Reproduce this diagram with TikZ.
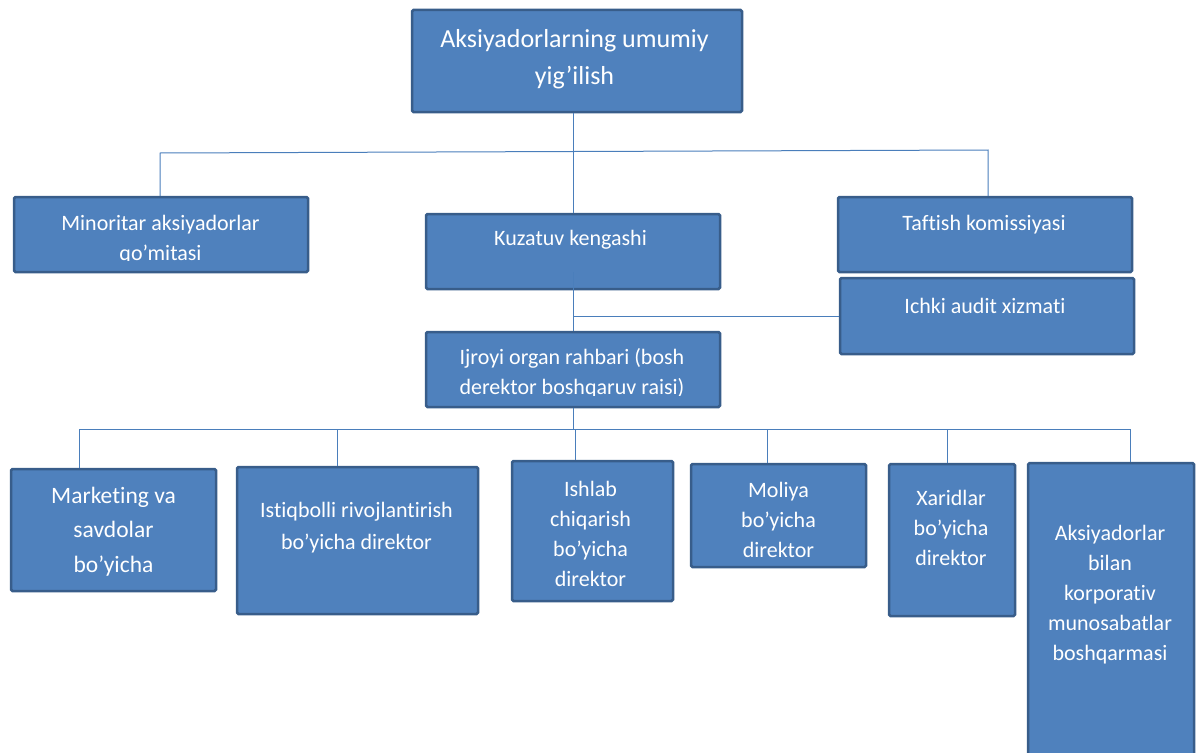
\documentclass[tikz,border=0pt]{standalone}
\usepackage{fontspec}
\setmainfont{Carlito}[Ligatures=NoCommon]
\usetikzlibrary{calc}
\definecolor{boxfill}{RGB}{79,129,189}
\definecolor{boxline}{RGB}{56,93,138}
\definecolor{conn}{RGB}{74,126,187}
\tikzset{
  box/.style={draw=boxline, fill=boxfill, line width=2.5pt, rounded corners=1.5pt, inner sep=0pt},
  txt/.style={text=white, align=center, inner sep=0pt, font=\fontsize{22}{30}\selectfont},
  link/.style={draw=conn, line width=1pt}
}
\begin{document}
\begin{tikzpicture}[x=1pt,y=-1pt]
\useasboundingbox (0,0) rectangle (1196,752);
\clip (0,0) rectangle (1196,752);
% boxes
\node[box, minimum width=330pt, minimum height=102pt] (top) at (577,61) {};
\node[box, minimum width=294pt, minimum height=75pt] (min) at (161,234.5) {};
\node[box, minimum width=294pt, minimum height=75pt] (kuz) at (573,251.5) {};
\node[box, minimum width=294pt, minimum height=75pt] (taf) at (985,234.5) {};
\node[box, minimum width=294pt, minimum height=76pt] (ich) at (987,316) {};
\node[box, minimum width=294pt, minimum height=75pt] (ijr) at (573,369.5) {};
\node[box, minimum width=205pt, minimum height=122pt] (mkt) at (113.5,530) {};
\node[box, minimum width=241pt, minimum height=147pt] (ist) at (357.5,540.5) {};
\node[box, minimum width=161pt, minimum height=140pt] (ish) at (592.5,531) {};
\node[box, minimum width=175pt, minimum height=103pt] (mol) at (778.5,515.5) {};
\node[box, minimum width=126pt, minimum height=152pt] (xar) at (952,540) {};
\node[box, minimum width=166pt, minimum height=337pt] (aks) at (1111,631.5) {};
% texts
\node[txt, font=\fontsize{26}{37}\selectfont] (ttop) at (574.5,59.5) {Aksiyadorlarning umumiy\\yig’ilish};
\begin{scope}
  \clip (min.north west) rectangle ($(min.south east)+(0,-13)$);
  \node[txt] (tmin) at (160.5,239.5) {Minoritar aksiyadorlar\\qo’mitasi};
\end{scope}
\node[txt] (tkuz) at (570.5,239.5) {Kuzatuv kengashi};
\node[txt] (ttaf) at (984,224.5) {Taftish komissiyasi};
\node[txt] (tich) at (985,305.5) {Ichki audit xizmati};
\begin{scope}
  \clip (ijr.north west) rectangle ($(ijr.south east)+(0,-13)$);
  \node[txt] (tijr) at (572,373.5) {Ijroyi organ rahbari (bosh\\derektor boshqaruv raisi)};
\end{scope}
\node[txt, font=\fontsize{23.5}{34.5}\selectfont] (tmkt) at (113.5,531.5) {Marketing va\\savdolar\\bo’yicha};
\node[txt, font=\fontsize{22}{32}\selectfont] (tist) at (356.5,528) {Istiqbolli rivojlantirish\\bo’yicha direktor};
\node[txt] (tish) at (590.5,534) {Ishlab\\chiqarish\\bo’yicha\\direktor};
\node[txt] (tmol) at (778.5,520) {Moliya\\bo’yicha\\direktor};
\node[txt] (txar) at (951,527.5) {Xaridlar\\bo’yicha\\direktor};
\node[txt] (taks) at (1110,594.5) {Aksiyadorlar\\bilan\\korporativ\\munosabatlar\\boshqarmasi};
% connectors
\coordinate (busL) at (160,153);
\coordinate (busR) at (988,150);
\draw[link] (kuz.north) -- (kuz.north |- top.south);
\draw[link] (min.north -| busL) -- (busL) -- (busR) -- (taf.north -| busR);
\draw[link] ([yshift=18pt]kuz.south) -- (ijr.north);
\draw[link] (ich.west) -- (ich.west -| kuz.south);
\coordinate (b1) at (79,429);
\coordinate (b2) at (337,429);
\coordinate (b3) at (575,429);
\coordinate (b4) at (767,429);
\coordinate (b5) at (947,429);
\coordinate (b6) at (1130,429);
\draw[link] (ijr.south) -- (ijr.south |- b1);
\draw[link] (b1) -- (b6);
\draw[link] (b1) -- (b1 |- mkt.north);
\draw[link] (b2) -- (b2 |- ist.north);
\draw[link] (b3) -- (b3 |- ish.north);
\draw[link] (b4) -- (b4 |- mol.north);
\draw[link] (b5) -- (b5 |- xar.north);
\draw[link] (b6) -- (b6 |- aks.north);
\end{tikzpicture}
\end{document}
